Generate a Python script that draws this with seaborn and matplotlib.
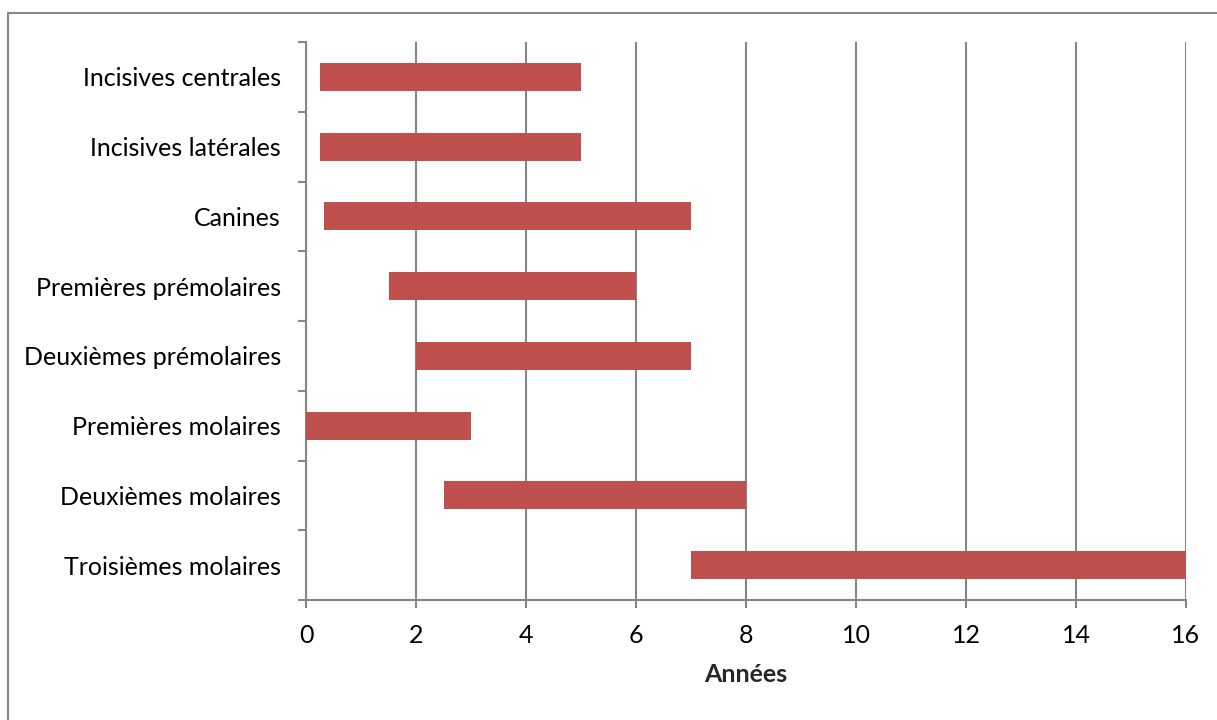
import matplotlib
matplotlib.use("Agg")
import matplotlib.pyplot as plt
from matplotlib.patches import Rectangle
import seaborn as sns
import pandas as pd

# Période de calcification / formation des dents (en années)
categories = [
    "Incisives centrales",
    "Incisives latérales",
    "Canines",
    "Premières prémolaires",
    "Deuxièmes prémolaires",
    "Premières molaires",
    "Deuxièmes molaires",
    "Troisièmes molaires",
]
debut = [0.25, 0.25, 0.33, 1.5, 2.0, 0.0, 2.5, 7.0]
fin = [5.0, 5.0, 7.0, 6.0, 7.0, 3.0, 8.0, 16.0]
x_ticks = [0, 2, 4, 6, 8, 10, 12, 14, 16]
x_label = "Années"

df = pd.DataFrame({
    "dent": categories,
    "debut": debut,
    "duree": [f - d for d, f in zip(debut, fin)],
})

sns.set_theme(style="white")
plt.rcParams["font.family"] = ["Lato", "DejaVu Sans"]

grid_col = "#868686"
bar_col = "#C0504D"
fs = 18

fig = plt.figure(figsize=(12.17, 7.2), dpi=100)
ax = fig.add_axes([306 / 1217, 1 - 600 / 720, 880 / 1217, 558 / 720])

sns.barplot(data=df, x="duree", y="dent", orient="h", color=bar_col,
            saturation=1, width=0.4, ax=ax, zorder=3)

# each bar starts at its own onset age
for patch, start in zip(ax.patches, df["debut"]):
    patch.set_x(start)
    patch.set_edgecolor("none")

ax.set_xlim(x_ticks[0], x_ticks[-1])
ax.set_ylim(len(categories) - 0.5, -0.5)
ax.set_xticks(x_ticks)
ax.set_xticklabels([str(t) for t in x_ticks])
ax.set_xlabel(x_label, fontsize=fs, fontweight="bold", labelpad=12)
ax.set_ylabel("")

ax.grid(axis="x", color=grid_col, linewidth=1.5, zorder=0)
ax.grid(axis="y", visible=False)
ax.set_axisbelow(True)

for side in ("top", "right"):
    ax.spines[side].set_visible(False)
for side in ("left", "bottom"):
    ax.spines[side].set_color(grid_col)
    ax.spines[side].set_linewidth(1.5)

# category labels sit between tick marks drawn at category boundaries
ax.set_yticks([i - 0.5 for i in range(len(categories) + 1)], minor=True)
ax.tick_params(axis="y", which="major", length=0, pad=18, labelsize=fs,
               labelcolor="black")
ax.tick_params(axis="y", which="minor", length=6, width=1.5, color=grid_col,
               direction="out", left=True)
ax.tick_params(axis="x", which="major", length=6, width=1.5, color=grid_col,
               direction="out", bottom=True, pad=11, labelsize=fs,
               labelcolor="black")

# chart area frame
fig.patches.append(Rectangle((8 / 1217, -0.1), 1.2, 1 - 13 / 720 + 0.1,
                             transform=fig.transFigure, fill=False,
                             edgecolor=grid_col, linewidth=1.5))

fig.savefig("out.png", dpi=100)
